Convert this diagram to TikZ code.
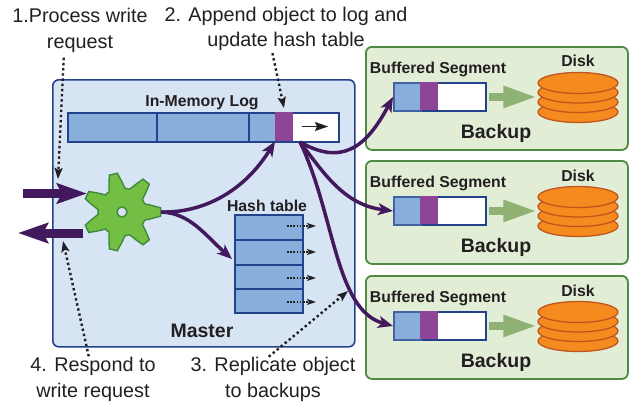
\documentclass[tikz,border=0pt]{standalone}
\usepackage{fontspec}
\setmainfont{Liberation Sans}
\usetikzlibrary{arrows.meta,shapes.geometric}
\definecolor{masterfill}{HTML}{D6E4F4}
\definecolor{navy}{HTML}{24418C}
\definecolor{segblue}{HTML}{88AEDB}
\definecolor{objpurple}{HTML}{8E4598}
\definecolor{darkpurple}{HTML}{43195E}
\definecolor{gearfill}{HTML}{72BF44}
\definecolor{gearedge}{HTML}{3F8A3A}
\definecolor{backupfill}{HTML}{E2EDD6}
\definecolor{backupedge}{HTML}{4F8A43}
\definecolor{diskfill}{HTML}{F58A1F}
\definecolor{diskedge}{HTML}{C0561E}
\definecolor{flowgreen}{HTML}{8FB174}
\definecolor{ink}{HTML}{231F20}
\tikzset{
    note/.style={align=center,text=ink,font=\fontsize{19.8}{25.5}\selectfont,inner sep=0pt},
    small title/.style={text=ink,font=\fontsize{15.8}{18}\selectfont\bfseries,inner sep=0pt},
    big title/.style={text=ink,font=\fontsize{19.5}{22}\selectfont\bfseries,inner sep=0pt},
    region/.style={draw,rounded corners=6pt,line width=1.8pt,anchor=north west,inner sep=0pt},
    cell/.style={draw=navy,line width=1.9pt,anchor=north west,inner sep=0pt},
    plate/.style={fill=#1,anchor=north west,inner sep=0pt},
    disk/.style={ellipse,draw=diskedge,fill=diskfill,line width=1.3pt,minimum width=80pt,minimum height=21pt,inner sep=0pt},
    curve/.style={draw=darkpurple,line width=3.5pt,-{Stealth[length=15pt,width=12pt,inset=4pt]}},
    port/.style={draw=darkpurple,line width=9pt,-{Stealth[length=30pt,width=20pt,inset=5pt]}},
    flow/.style={draw=flowgreen,line width=8pt,-{Triangle[length=34pt,width=20pt]}},
    hint/.style={draw=ink,line width=2.4pt,dash pattern=on 2.4pt off 2.8pt,-{Stealth[length=11pt,width=8pt,inset=2pt]}},
    probe/.style={draw=ink,line width=1.5pt,dash pattern=on 1.6pt off 1.6pt,-{Stealth[length=9pt,width=6pt,inset=2pt]}},
}
\begin{document}
\begin{tikzpicture}[x=1pt,y=-1pt]
    \useasboundingbox (0,0) rectangle (629,405);

    % master
    \node[region,line width=1.6pt,draw=navy,fill=masterfill,minimum width=302pt,minimum height=267pt] at (52,79) (master) {};
    \node[big title] at (202,331) (master label) {Master};

    % log
    \node[small title] at (202,102.5) (log label) {In-Memory Log};
    \node[cell,fill=white,minimum width=271pt,minimum height=29pt] at (67,112) (log) {};
    \node[cell,fill=segblue,minimum width=89pt,minimum height=29pt] at (67,112) (seg a) {};
    \node[cell,fill=segblue,minimum width=92pt,minimum height=29pt] at (156,112) (seg b) {};
    \node[cell,fill=segblue,minimum width=27pt,minimum height=29pt] at (248,112) (seg c) {};
    \node[plate=objpurple,minimum width=18pt,minimum height=29pt] at (275,112) (seg obj) {};
    \coordinate (tail) at (302,126.5);
    \coordinate (head) at (328,126.5);
    \draw[line width=1.3pt,ink,-{Stealth[length=13pt,width=9pt,inset=2pt]}] (tail) -- (head);

    % hash table
    \node[small title] at (267,206) (hash label) {Hash table};
    \node[cell,fill=segblue,minimum width=68pt,minimum height=25pt] at (234,214) (row a) {};
    \node[cell,fill=segblue,minimum width=68pt,minimum height=25pt] at (234,239) (row b) {};
    \node[cell,fill=segblue,minimum width=68pt,minimum height=24pt] at (234,264) (row c) {};
    \node[cell,fill=segblue,minimum width=68pt,minimum height=24pt] at (234,288) (row d) {};
    \draw[probe] ([xshift=18pt,yshift=1.5pt]row a.center) -- ([xshift=47pt,yshift=1.5pt]row a.center);
    \draw[probe] ([xshift=18pt,yshift=.5pt]row b.center) -- ([xshift=47pt,yshift=.5pt]row b.center);
    \draw[probe] ([xshift=18pt,yshift=-1pt]row c.center) -- ([xshift=47pt,yshift=-1pt]row c.center);
    \draw[probe] ([xshift=18pt,yshift=-1pt]row d.center) -- ([xshift=47pt,yshift=-1pt]row d.center);

    % gear
    \node[circle,minimum size=78pt,inner sep=0pt] at (122,212) (gear) {};
    \draw[draw=gearedge,fill=gearfill,line width=1.4pt,shift={(gear.center)}]
        plot[samples at={0,...,41}]
        ({floor(\x/6)*360/7+{-20,-12,-6,6,12,20}[int(mod(\x,6))]}:{{24,31,39,39,31,24}[int(mod(\x,6))]}) -- cycle;
    \draw[draw=gearedge,fill=masterfill,line width=1.4pt] (gear.center) circle (5pt);

    % backup one
    \node[region,draw=backupedge,fill=backupfill,minimum width=262pt,minimum height=103pt] at (365,46) (backup one) {};
    \node[big title] at (496,133.5) (backup one label) {Backup};
    \node[small title] at (438,69.5) (buffer one label) {Buffered Segment};
    \node[cell,fill=white,minimum width=92pt,minimum height=28pt] at (393,82) (buffer one) {};
    \node[cell,fill=segblue,draw=segblue!30!navy,minimum width=27pt,minimum height=28pt] at (393,82) (buffer one a) {};
    \node[plate=objpurple,minimum width=18pt,minimum height=28pt] at (420,82) (buffer one b) {};
    \node[small title] at (578,61) (disk one label) {Disk};
    \node[disk] at (578,112) (disk one d) {};
    \node[disk] at (578,102) (disk one c) {};
    \node[disk] at (578,92.5) (disk one b) {};
    \node[disk] at (578,83) (disk one a) {};
    \draw[flow] ([xshift=2pt]buffer one.east) -- (disk one a.west|-buffer one.east);

    % backup two
    \node[region,draw=backupedge,fill=backupfill,minimum width=262pt,minimum height=103pt] at (365,160) (backup two) {};
    \node[big title] at (496,247.5) (backup two label) {Backup};
    \node[small title] at (438,183.5) (buffer two label) {Buffered Segment};
    \node[cell,fill=white,minimum width=92pt,minimum height=28pt] at (393,196) (buffer two) {};
    \node[cell,fill=segblue,draw=segblue!30!navy,minimum width=27pt,minimum height=28pt] at (393,196) (buffer two a) {};
    \node[plate=objpurple,minimum width=18pt,minimum height=28pt] at (420,196) (buffer two b) {};
    \node[small title] at (578,176) (disk two label) {Disk};
    \node[disk] at (578,226) (disk two d) {};
    \node[disk] at (578,216) (disk two c) {};
    \node[disk] at (578,206.5) (disk two b) {};
    \node[disk] at (578,197) (disk two a) {};
    \draw[flow] ([xshift=2pt]buffer two.east) -- (disk two a.west|-buffer two.east);

    % backup three
    \node[region,draw=backupedge,fill=backupfill,minimum width=262pt,minimum height=103pt] at (365,275) (backup three) {};
    \node[big title] at (496,362.5) (backup three label) {Backup};
    \node[small title] at (438,298.5) (buffer three label) {Buffered Segment};
    \node[cell,fill=white,minimum width=92pt,minimum height=28pt] at (393,311) (buffer three) {};
    \node[cell,fill=segblue,draw=segblue!30!navy,minimum width=27pt,minimum height=28pt] at (393,311) (buffer three a) {};
    \node[plate=objpurple,minimum width=18pt,minimum height=28pt] at (420,311) (buffer three b) {};
    \node[small title] at (578,291) (disk three label) {Disk};
    \node[disk] at (578,341) (disk three d) {};
    \node[disk] at (578,331) (disk three c) {};
    \node[disk] at (578,321.5) (disk three b) {};
    \node[disk] at (578,312) (disk three a) {};
    \draw[flow] ([xshift=2pt]buffer three.east) -- (disk three a.west|-buffer three.east);

    % notes
    \node[note] at (80,30.5) (note process) {1.Process write\\request};
    \node[note] at (286,29) (note append) {2. Append object to log and\\update hash table};
    \node[note] at (273,379.5) (note replicate) {3. Replicate object\\to backups};
    \node[note] at (93,379.5) (note respond) {4. Respond to\\write request};

    % note links
    \coordinate (process end) at (58,179);
    \coordinate (append end) at (284,108);
    \coordinate (replicate end) at (348,291);
    \coordinate (respond end) at (63,241);
    \draw[hint,shorten <=5pt] (note process.south-|64,0) -- (process end);
    \draw[hint,shorten <=2pt] (note append.south-|272,0) -- (append end);
    \draw[hint,shorten <=1pt] (note replicate.north-|268,0) -- (replicate end);
    \draw[hint,shorten <=1pt] (note respond.north-|89,0) -- (respond end);

    % ports
    \coordinate (port in) at (23,193.5);
    \coordinate (port in tip) at (87,193.5);
    \coordinate (port out) at (83,233);
    \coordinate (port out tip) at (18,233);
    \draw[port] (port in) -- (port in tip);
    \draw[port] (port out) -- (port out tip);

    % links
    \draw[curve] (gear.east) .. controls (205,213) and (245,190) .. (seg obj.south west);
    \draw[curve] (gear.east) .. controls (190,213) and (205,235) .. ([xshift=-2pt]row b.north west|-0,259);
    \coordinate (split) at (300,142);
    \draw[curve] (split) .. controls (340,165) and (365,150) .. (buffer one.west);
    \draw[curve] (split) .. controls (325,175) and (345,205) .. (buffer two.west);
    \draw[curve] (split) .. controls (335,215) and (335,310) .. (buffer three.west);
\end{tikzpicture}
\end{document}
